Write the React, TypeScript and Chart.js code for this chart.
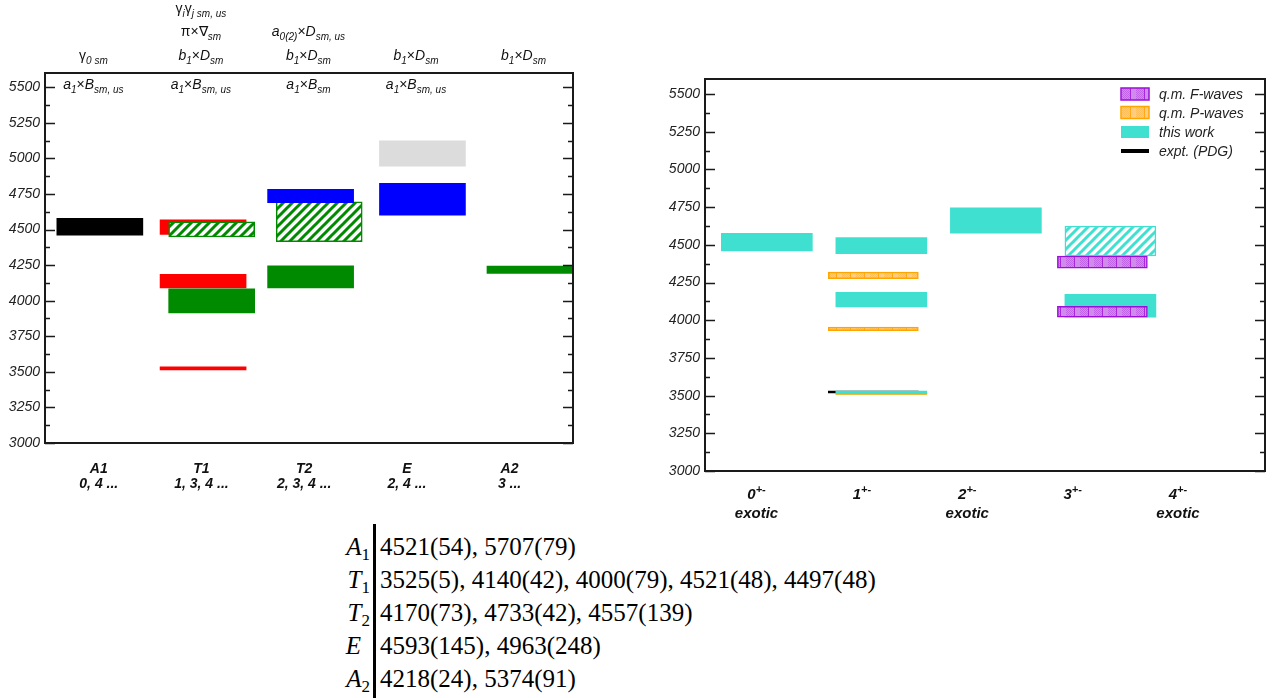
import React, { useEffect, useRef } from 'react';
import { Chart, registerables } from 'chart.js';

Chart.register(...registerables);

const FAMILY = '"Liberation Sans", Arial, Helvetica, sans-serif';
const SERIF = '"Liberation Serif", "Times New Roman", serif';

// ---------------- shared axis ----------------
const Y_TICKS = [3000, 3250, 3500, 3750, 4000, 4250, 4500, 4750, 5000, 5250, 5500];
const Y_MIN = 3000;
const Y_MAX = 5600;

// ---------------- left panel: cubic irreps ----------------
const IRREPS = ['A1', 'T1', 'T2', 'E', 'A2'];
const IRREP_SPINS = ['0, 4 ...', '1, 3, 4 ...', '2, 3, 4 ...', '2, 4 ...', '3 ...'];

// [irrep index, low, high]
const A1_BLACK = [[0, 4461, 4578]];
const T1_RED = [[1, 3513, 3535], [1, 4090, 4186], [1, 4466, 4568]];
const T1_GREEN = [[1, 3914, 4083]];
const T1_GREEN_HATCH = [[1, 4449, 4555]];
const T2_BLUE = [[2, 4688, 4783]];
const T2_GREEN = [[2, 4090, 4245]];
const T2_GREEN_HATCH = [[2, 4414, 4695]];
const E_BLUE = [[3, 4601, 4824]];
const E_GREY = [[3, 4946, 5124]];
const A2_GREEN = [[4, 4192, 4244]];

type Seg = [string, string];
const aBsmus: Seg[] = [['a', 'i'], ['1', 's'], ['×', 'n'], ['B', 'i'], ['sm, us', 's']];
const aBsm: Seg[] = [['a', 'i'], ['1', 's'], ['×', 'n'], ['B', 'i'], ['sm', 's']];
const bDsm: Seg[] = [['b', 'i'], ['1', 's'], ['×', 'n'], ['D', 'i'], ['sm', 's']];
const OPERATORS: [number, Seg[]][][] = [
  [[0, aBsmus], [1, [['γ', 'n'], ['0 sm', 's']]]],
  [[0, aBsmus], [1, bDsm], [2, [['π×∇', 'n'], ['sm', 's']]], [3, [['γ', 'n'], ['i', 's'], ['γ', 'n'], ['j sm, us', 's']]]],
  [[0, aBsm], [1, bDsm], [2, [['a', 'i'], ['0(2)', 's'], ['×', 'n'], ['D', 'i'], ['sm, us', 's']]]],
  [[0, aBsmus], [1, bDsm]],
  [[1, bDsm]],
];

// ---------------- right panel: J^{+-} ----------------
const JPC = ['0', '1', '2', '3', '4'];
const JPC_NOTE = ['exotic', '', 'exotic', '', 'exotic'];
const THIS_WORK = [[0, 4459, 4577], [1, 4441, 4548], [1, 4089, 4185], [1, 3512, 3530], [2, 4577, 4745], [3, 4021, 4172]];
const THIS_WORK_HATCH = [[3, 4426, 4625]];
const QM_P = [[1, 4275, 4320], [1, 3930, 3954]];
const QM_P_LINE = [[1, 3508, 3514]];
const QM_F = [[3, 4346, 4426], [3, 4021, 4092]];
const PDG = [[1, 3518, 3530]];
const LEGEND_LABELS = ['q.m. F-waves', 'q.m. P-waves', 'this work', 'expt. (PDG)'];

// ---------------- table ----------------
const TABLE_IRREPS: [string, string][] = [['A', '1'], ['T', '1'], ['T', '2'], ['E', ''], ['A', '2']];
const TABLE_MASSES = [
  '4521(54), 5707(79)',
  '3525(5), 4140(42), 4000(79), 4521(48), 4497(48)',
  '4170(73), 4733(42), 4557(139)',
  '4593(145), 4963(248)',
  '4218(24), 5374(91)',
];

// ---------------- helpers ----------------
function makeHatch(ctx: CanvasRenderingContext2D, color: string): CanvasPattern {
  const s = 9;
  const t = document.createElement('canvas');
  t.width = s; t.height = s;
  const g = t.getContext('2d')!;
  g.fillStyle = '#ffffff'; g.fillRect(0, 0, s, s);
  g.strokeStyle = color; g.lineWidth = 3;
  g.beginPath();
  g.moveTo(-2, s + 2); g.lineTo(s + 2, -2);
  g.moveTo(-2, 2); g.lineTo(2, -2);
  g.moveTo(s - 2, s + 2); g.lineTo(s + 2, s - 2);
  g.stroke();
  return ctx.createPattern(t, 'repeat')!;
}

function makeGrid(ctx: CanvasRenderingContext2D, fill: string, line: string): CanvasPattern {
  const w = 14, h = 14;
  const t = document.createElement('canvas');
  t.width = w; t.height = h;
  const g = t.getContext('2d')!;
  g.fillStyle = fill; g.fillRect(0, 0, w, h);
  g.fillStyle = line;
  g.globalAlpha = 0.3;
  for (let y = 0; y < h; y += 1) for (let x = 6 + (y % 2); x < w; x += 2) g.fillRect(x, y, 1, 1);
  g.globalAlpha = 0.8;
  g.fillRect(0, 0, 1, h);
  return ctx.createPattern(t, 'repeat')!;
}

function drawRich(ctx: CanvasRenderingContext2D, segs: Seg[], cx: number, base: number, size: number, bold: boolean) {
  const parts = segs.map(([t, k]) => {
    const small = k === 's' || k === 'S';
    const style = k === 'n' ? 'normal' : 'italic';
    const px = small ? Math.round(size * 0.7) : size;
    const font = `${style} ${bold ? 'bold ' : ''}${px}px ${FAMILY}`;
    ctx.font = font;
    const dy = k === 's' ? size * 0.3 : k === 'S' ? -size * 0.42 : 0;
    return { t, font, w: ctx.measureText(t).width, dy };
  });
  const total = parts.reduce((s, p) => s + p.w, 0);
  let x = cx - total / 2;
  ctx.textAlign = 'left';
  ctx.textBaseline = 'alphabetic';
  parts.forEach((p) => { ctx.font = p.font; ctx.fillText(p.t, x, base + p.dy); x += p.w; });
}

function bars(rows: number[][], slot: number, thickness: number, style: any) {
  return {
    type: 'bar',
    data: rows.map(([c, lo, hi]) => ({ x: c + slot, y: [lo, hi] })),
    barThickness: thickness,
    borderSkipped: false,
    borderWidth: 0,
    ...style,
  };
}

function yAxis(width: number) {
  return {
    type: 'linear',
    min: Y_MIN,
    max: Y_MAX,
    afterBuildTicks: (s: any) => { s.ticks = Y_TICKS.map((v) => ({ value: v })); },
    afterFit: (s: any) => { s.width = width; },
    grid: { display: false, drawTicks: false },
    border: { display: false },
    ticks: { color: '#222', padding: 5, font: { family: FAMILY, size: 14, style: 'italic' }, callback: (v: any) => String(v) },
  };
}

const framePlugin = {
  id: 'frame',
  afterDatasetsDraw(chart: any) {
    const { ctx, chartArea: a, scales } = chart;
    const y = scales.y;
    ctx.save();
    ctx.strokeStyle = '#1a1a1a';
    ctx.lineWidth = 1.4;
    const vals: [number, boolean][] = [];
    Y_TICKS.forEach((v, i) => {
      vals.push([v, true]);
      const next = i < Y_TICKS.length - 1 ? Y_TICKS[i + 1] : v + 250;
      const mid = (v + next) / 2;
      if (mid < Y_MAX) vals.push([mid, false]);
    });
    ctx.beginPath();
    vals.forEach(([v, major]) => {
      const py = Math.round(y.getPixelForValue(v)) + 0.5;
      const len = major ? 10 : 5;
      ctx.moveTo(a.left, py); ctx.lineTo(a.left + len, py);
      ctx.moveTo(a.right - len, py); ctx.lineTo(a.right, py);
    });
    ctx.stroke();
    ctx.lineWidth = 2;
    ctx.strokeRect(a.left, a.top, a.right - a.left, a.bottom - a.top);
    ctx.restore();
  },
};

const LEFT_LABEL_START = 0.49;
const LEFT_LABEL_STEP = 0.955;
const OPERATOR_POS = 0.44;
const ROW_DY = [16, -13, -37, -60];

const leftTextPlugin = {
  id: 'leftText',
  afterDraw(chart: any) {
    const { ctx, chartArea: a, scales } = chart;
    const x = scales.x;
    ctx.save();
    ctx.fillStyle = '#111';
    IRREPS.forEach((name, i) => {
      const cx = x.getPixelForValue(LEFT_LABEL_START + LEFT_LABEL_STEP * i);
      drawRich(ctx, [[name, 'i']], cx, a.bottom + 30, 14, true);
      drawRich(ctx, [[IRREP_SPINS[i], 'i']], cx, a.bottom + 45, 14, true);
    });
    OPERATORS.forEach((rows, i) => {
      const cx = x.getPixelForValue(i + OPERATOR_POS);
      rows.forEach(([row, segs]) => drawRich(ctx, segs, cx, a.top + ROW_DY[row], 14, false));
    });
    ctx.restore();
  },
};

const RIGHT_LABEL_START = 0.43;
const RIGHT_LABEL_STEP = 0.92;

function makeRightTextPlugin(legendFills: any[]) {
  return {
    id: 'rightText',
    afterDraw(chart: any) {
      const { ctx, chartArea: a, scales } = chart;
      const x = scales.x;
      ctx.save();
      ctx.fillStyle = '#111';
      JPC.forEach((j, i) => {
        const cx = x.getPixelForValue(RIGHT_LABEL_START + RIGHT_LABEL_STEP * i);
        drawRich(ctx, [[j, 'i'], ['+-', 'S']], cx, a.bottom + 28, 15, true);
        if (JPC_NOTE[i]) drawRich(ctx, [[JPC_NOTE[i], 'i']], cx, a.bottom + 47, 15, true);
      });
      // legend
      const rowY = [15, 33.5, 53, 72];
      const bx = a.right - 144;
      LEGEND_LABELS.forEach((lab, k) => {
        const cy = a.top + rowY[k];
        const f = legendFills[k];
        if (f.line) {
          ctx.fillStyle = f.line;
          ctx.fillRect(bx, cy - 2, 28, 4);
        } else {
          ctx.fillStyle = f.fill;
          ctx.fillRect(bx, cy - 6, 28, 12);
          if (f.border) {
            ctx.strokeStyle = f.border; ctx.lineWidth = 1.5;
            ctx.strokeRect(bx, cy - 6, 28, 12);
          }
        }
        ctx.fillStyle = '#222';
        ctx.font = `italic 14px ${FAMILY}`;
        ctx.textAlign = 'left';
        ctx.textBaseline = 'alphabetic';
        ctx.fillText(lab, bx + 38, cy + 5);
      });
      ctx.restore();
    },
  };
}

export default function App() {
  const leftRef = useRef<HTMLCanvasElement>(null);
  const rightRef = useRef<HTMLCanvasElement>(null);

  useEffect(() => {
    const lc = leftRef.current!;
    const rc = rightRef.current!;
    const lctx = lc.getContext('2d')!;
    const rctx = rc.getContext('2d')!;

    const GREEN = '#008a00';
    const CYAN = '#40e0d0';
    const greenHatch = makeHatch(lctx, GREEN);
    const cyanHatch = makeHatch(rctx, CYAN);
    const orangeGrid = makeGrid(rctx, '#ffcc80', '#ff9f00');
    const purpleGrid = makeGrid(rctx, '#d08cea', '#9b10d8');

    const LW = 86;
    const left = new Chart(lc, {
      type: 'bar',
      data: {
        datasets: [
          bars(T2_BLUE, 0.46, LW, { backgroundColor: '#0000ff' }),
          bars(T1_GREEN_HATCH, 0.54, LW, { backgroundColor: greenHatch, borderColor: GREEN, borderWidth: 1.5 }),
          bars(T2_GREEN_HATCH, 0.54, LW, { backgroundColor: greenHatch, borderColor: GREEN, borderWidth: 1.5 }),
          bars(T1_GREEN, 0.54, LW, { backgroundColor: GREEN }),
          bars(T1_RED, 0.46, LW, { backgroundColor: '#ff0000' }),
          bars(T2_GREEN, 0.46, LW, { backgroundColor: GREEN }),
          bars(A1_BLACK, 0.5, LW, { backgroundColor: '#000000' }),
          bars(E_BLUE, 0.5, LW, { backgroundColor: '#0000ff' }),
          bars(E_GREY, 0.5, LW, { backgroundColor: '#dcdcdc' }),
          bars(A2_GREEN, 0.5, LW, { backgroundColor: GREEN }),
        ] as any,
      },
      options: {
        animation: false,
        responsive: false,
        maintainAspectRatio: false,
        layout: { padding: { left: 0, top: 73, right: 67, bottom: 57 } },
        plugins: { legend: { display: false }, tooltip: { enabled: false } },
        scales: {
          x: { type: 'linear', min: -0.01, max: 4.9, offset: false, stacked: true, display: false },
          y: yAxis(45) as any,
        },
      } as any,
      plugins: [framePlugin, leftTextPlugin],
    });

    const RW = 91;
    const right = new Chart(rc, {
      type: 'bar',
      data: {
        datasets: [
          bars(QM_P_LINE, 0.52, RW, { backgroundColor: '#ffa500' }),
          bars(QM_F, 0.45, 90, { backgroundColor: purpleGrid, borderColor: '#9b10d8', borderWidth: 1.5 }),
          bars(QM_P, 0.45, 90, { backgroundColor: orangeGrid, borderColor: '#ffa500', borderWidth: 1.5 }),
          bars(THIS_WORK_HATCH, 0.52, RW, { backgroundColor: cyanHatch, borderColor: CYAN, borderWidth: 1.5 }),
          bars(THIS_WORK, 0.52, RW, { backgroundColor: CYAN }),
          bars(PDG, 0.45, 90, { backgroundColor: '#000000' }),
        ] as any,
      },
      options: {
        animation: false,
        responsive: false,
        maintainAspectRatio: false,
        layout: { padding: { left: 0, top: 79, right: 19, bottom: 59 } },
        plugins: { legend: { display: false }, tooltip: { enabled: false } },
        scales: {
          x: { type: 'linear', min: -0.02, max: 4.87, offset: false, stacked: true, display: false },
          y: yAxis(65) as any,
        },
      } as any,
      plugins: [
        framePlugin,
        makeRightTextPlugin([
          { fill: purpleGrid, border: '#9b10d8' },
          { fill: orangeGrid, border: '#ffa500' },
          { fill: CYAN },
          { line: '#000000' },
        ]),
      ],
    });

    return () => { left.destroy(); right.destroy(); };
  }, []);

  return (
    <div style={{ position: 'absolute', left: 0, top: 0, width: 1284, height: 698, background: '#ffffff', overflow: 'hidden' }}>
      <canvas ref={leftRef} width={640} height={500} style={{ position: 'absolute', left: 0, top: 0, width: 640, height: 500 }} />
      <canvas ref={rightRef} width={644} height={530} style={{ position: 'absolute', left: 640, top: 0, width: 644, height: 530 }} />
      <div style={{ position: 'absolute', left: 373, top: 524, width: 3, height: 174, background: '#000' }} />
      {TABLE_IRREPS.map(([sym, sub], k) => (
        <div key={k} style={{ position: 'absolute', left: 0, top: 529.5 + k * 33, width: 1284, height: 33, lineHeight: '33px', fontFamily: SERIF, fontSize: 25, color: '#000', whiteSpace: 'nowrap' }}>
          <div style={{ position: 'absolute', left: 0, width: 370, textAlign: 'right' }}>
            <i>{sym}</i>
            <span style={{ fontSize: 17, position: 'relative', top: 5, display: 'inline-block', minWidth: sub ? 0 : 9, lineHeight: '0' }}>{sub}</span>
          </div>
          <div style={{ position: 'absolute', left: 380 }}>{TABLE_MASSES[k]}</div>
        </div>
      ))}
    </div>
  );
}
